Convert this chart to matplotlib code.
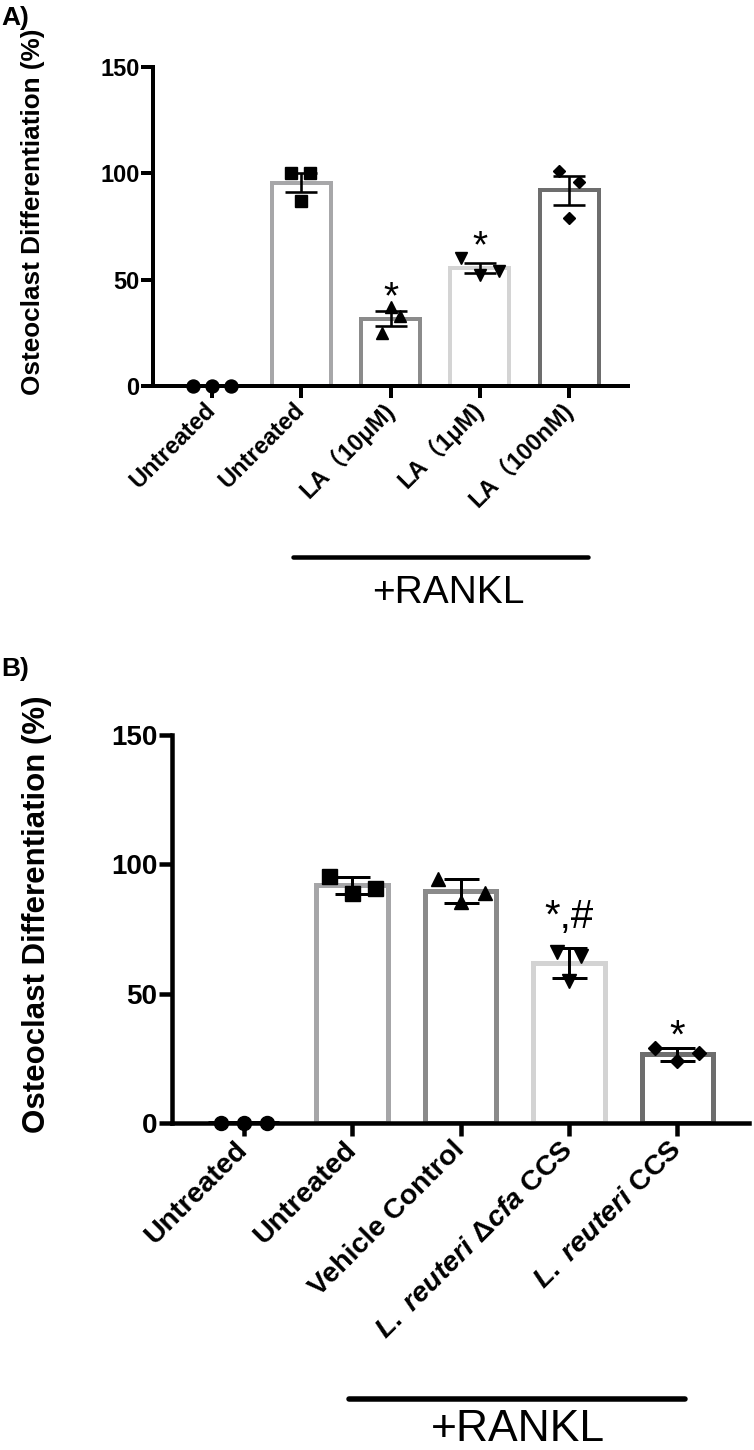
import numpy as np
import matplotlib
matplotlib.use("Agg")
import matplotlib.pyplot as plt
from matplotlib.lines import Line2D

plt.rcParams['font.family'] = ['Liberation Sans', 'Noto Sans CJK SC', 'DejaVu Sans']
plt.rcParams['mathtext.fontset'] = 'custom'
plt.rcParams['mathtext.rm'] = 'Liberation Sans:bold'
plt.rcParams['mathtext.it'] = 'Liberation Sans:italic:bold'
plt.rcParams['mathtext.bf'] = 'Liberation Sans:bold'

# ---------------- data: panel A ----------------
a_labels = ["Untreated", "Untreated", "LA（10μM)", "LA（1μM)", "LA（100nM)"]
a_untreated = [0, 0, 0]
a_rankl = [100, 100, 87]
a_la_10uM = [37, 33, 25]
a_la_1uM = [60, 52, 54]
a_la_100nM = [101, 96, 79]
a_sig = ["", "", "*", "*", ""]

# ---------------- data: panel B ----------------
b_labels = ["Untreated", "Untreated", "Vehicle Control",
            r"$\mathit{L.\ reuteri\ Δcfa}$ CCS", r"$\mathit{L.\ reuteri}$ CCS"]
b_untreated = [0, 0, 0]
b_rankl = [95.5, 89, 91]
b_vehicle = [94.5, 85.5, 89]
b_dcfa = [66, 64.5, 55]
b_ccs = [29, 24, 27]
b_sig = ["", "", "", "*,#", "*"]

W, H = 754, 1450
fig = plt.figure(figsize=(W / 100, H / 100), dpi=100)


def fx(x):
    return x / W


def fy(y):
    return 1 - y / H


def pt(px):
    return px * 0.72


def panel(rect, groups, labels, markers, ms, jitter, colors, err_kind,
          sig, sig_y, st):
    ax = fig.add_axes(rect)
    x = np.arange(len(groups))
    means = [float(np.mean(g)) for g in groups]
    errs = []
    for g in groups:
        sd = float(np.std(g, ddof=1))
        errs.append(sd / np.sqrt(len(g)) if err_kind == "sem" else sd)
    ax.bar(x, means, width=0.66, facecolor="white", edgecolor=colors,
           linewidth=st["bar_lw"], zorder=1)
    for i, g in enumerate(groups):
        xs = x[i] + np.array(jitter[i])
        ax.plot(xs, g, ls="none", marker=markers[i], ms=ms[i], color="black",
                mec="black", clip_on=False, zorder=4)
        if means[i] > 0:
            ax.errorbar(x[i], means[i], yerr=errs[i], fmt="none", ecolor="black",
                        elinewidth=st["err_lw"], capsize=st["cap"],
                        capthick=st["err_lw"], zorder=5)
        if sig[i]:
            ax.text(x[i], sig_y[i], sig[i], ha="center", va="baseline",
                    fontsize=st["sig_fs"], zorder=6)
    ax.set_xlim(-0.66, len(groups) - 1 + 0.66)
    ax.set_ylim(0, 150)
    ax.set_yticks([0, 50, 100, 150])
    ax.set_xticks(x)
    ax.set_xticklabels(labels, rotation=45, ha="right", va="center",
                       rotation_mode="anchor", fontsize=st["xt_fs"],
                       fontweight="bold")
    for t in ax.get_yticklabels():
        t.set_fontsize(st["yt_fs"])
        t.set_fontweight("bold")
    for s in ["top", "right"]:
        ax.spines[s].set_visible(False)
    for s in ["left", "bottom"]:
        ax.spines[s].set_linewidth(st["spine_lw"])
        ax.spines[s].set_zorder(3)
        ax.spines[s].set_capstyle("projecting")
    ax.tick_params(axis="both", direction="out", length=st["tick_len"],
                   width=st["spine_lw"], color="black")
    ax.tick_params(axis="y", pad=1)
    ax.tick_params(axis="x", pad=st["xpad"])
    return ax


# ---------------- panel A ----------------
stA = dict(bar_lw=pt(4), err_lw=pt(2.6), cap=pt(16), sig_fs=28, xt_fs=17,
           yt_fs=17, spine_lw=pt(4), tick_len=pt(12), xpad=6)
axA = panel([fx(153), fy(386), fx(628) - fx(153), fy(67) - fy(386)],
            [a_untreated, a_rankl, a_la_10uM, a_la_1uM, a_la_100nM],
            a_labels, ["o", "s", "^", "v", "D"],
            [pt(13), pt(12), pt(12), pt(12), pt(8.5)],
            [[-0.21, 0, 0.21], [-0.11, 0.1, 0], [0, 0.11, -0.1],
             [-0.21, 0, 0.21], [-0.11, 0.11, 0]],
            ["black", "#a7a7a9", "#8b8b8b", "#d4d4d4", "#6d6d6d"],
            "sem", a_sig, [0, 0, 36.5, 60.5, 0], stA)

fig.text(fx(33), fy(212), "Osteoclast Differentiation (%)", rotation=90,
         ha="center", va="center", fontsize=18.8, fontweight="bold")
fig.text(fx(1), fy(25), "A)", ha="left", va="baseline", fontsize=19,
         fontweight="bold")
fig.add_artist(Line2D([fx(293), fx(588)], [fy(557), fy(557)], lw=pt(4.5),
                      color="black", solid_capstyle="round"))
fig.text(fx(448), fy(603), "+RANKL", ha="center", va="baseline", fontsize=28)

# ---------------- panel B ----------------
stB = dict(bar_lw=pt(5), err_lw=pt(3), cap=pt(17.5), sig_fs=29, xt_fs=20.5,
           yt_fs=20, spine_lw=pt(4.5), tick_len=pt(13), xpad=7)
axB = panel([fx(172), fy(1123), fx(749) - fx(172), fy(735) - fy(1123)],
            [b_untreated, b_rankl, b_vehicle, b_dcfa, b_ccs],
            b_labels, ["o", "s", "^", "v", "D"],
            [pt(14), pt(15), pt(14), pt(14), pt(9.2)],
            [[-0.21, 0, 0.22], [-0.21, 0, 0.21], [-0.21, 0, 0.23],
             [-0.11, 0.11, 0], [-0.21, 0, 0.2]],
            ["black", "#a6a6a8", "#8a8a8a", "#d3d3d3", "#6d6d6d"],
            "sd", b_sig, [0, 0, 0, 75.5, 29], stB)

fig.text(fx(37), fy(914), "Osteoclast Differentiation (%)", rotation=90,
         ha="center", va="center", fontsize=22.5, fontweight="bold")
fig.text(fx(1), fy(676), "B)", ha="left", va="baseline", fontsize=19,
         fontweight="bold")
fig.add_artist(Line2D([fx(349), fx(685)], [fy(1399), fy(1399)], lw=pt(5.5),
                      color="black", solid_capstyle="round"))
fig.text(fx(518), fy(1441), "+RANKL", ha="center", va="baseline", fontsize=32)

fig.savefig("out.png", dpi=100)
